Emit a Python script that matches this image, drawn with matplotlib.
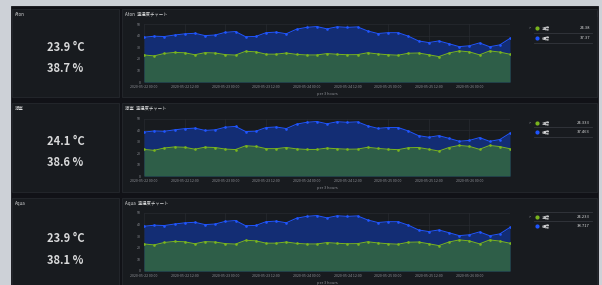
import numpy as np
import pandas as pd
import matplotlib
matplotlib.use("Agg")
import matplotlib.pyplot as plt
import matplotlib.dates as mdates
from matplotlib.patches import Rectangle

plt.rcParams['font.family'] = ['Noto Sans CJK JP', 'DejaVu Sans']

# data (3 hour steps)
times = pd.date_range("2020-05-22 00:00", periods=37, freq="3h")
tick_times = pd.date_range("2020-05-22 00:00", periods=9, freq="12h")

humidity = [38.5, 39.5, 39.2, 40.5, 41.5, 42.0, 40.0, 40.5, 42.8, 43.5,
            39.0, 39.3, 42.5, 43.0, 41.6, 45.5, 47.1, 47.8, 45.8, 47.6,
            47.1, 47.5, 44.0, 41.8, 42.5, 42.5, 39.5, 35.4, 34.0, 35.4,
            33.0, 30.5, 31.2, 33.7, 30.4, 32.0, 37.6]
temperature = [23.3, 22.5, 24.6, 25.5, 25.2, 23.5, 25.3, 25.0, 23.6, 23.2,
               26.5, 26.0, 24.0, 24.0, 25.0, 23.8, 23.3, 23.3, 24.5, 23.9,
               23.5, 23.6, 25.2, 24.2, 23.5, 23.1, 24.8, 25.0, 23.5, 21.9,
               25.0, 26.8, 26.0, 23.4, 26.8, 25.8, 23.9]

rooms = ["Aton", "寝室", "Aqua"]
stat_temp = ["23.9 °C", "24.1 °C", "23.9 °C"]
stat_hum = ["38.7 %", "38.6 %", "38.1 %"]
legend_names = [["温度", "湿度"], ["温度", "湿度"], ["温度", "湿度"]]
legend_vals = [["24.38", "37.37"], ["24.333", "37.463"], ["24.233", "38.717"]]

W, H = 602, 285
fig = plt.figure(figsize=(W / 100, H / 100), dpi=100)
fig.patch.set_facecolor('#cdd1d7')


def rect(x0, y0, x1, y1, fc, ec=None, lw=0.6):
    fig.patches.append(Rectangle((x0 / W, 1 - y1 / H), (x1 - x0) / W, (y1 - y0) / H,
                                 transform=fig.transFigure, facecolor=fc,
                                 edgecolor=ec if ec else fc, linewidth=lw,
                                 zorder=-5))


def hline(x0, x1, y, color='#34373d', lw=0.6):
    fig.add_artist(plt.Line2D([x0 / W, x1 / W], [1 - y / H, 1 - y / H],
                              transform=fig.transFigure, color=color, linewidth=lw))


def text(x, y, s, **kw):
    fig.text(x / W, 1 - y / H, s, **kw)


# dashboard background
rect(11, 6, 598, 290, '#111217')
# top right little button
rect(590, 11, 597, 16, '#6b6e75')

row_top = [9, 103, 198]
row_bot = [97, 192, 292]
plot_top = [24, 119, 213]
plot_bot = [82, 176, 271]
legend_y = [[28, 38], [123, 132], [217, 226]]
legend_lines = [[32.5, 43], [127, 137], [212, 221]]

blue_line = '#1f55ff'
blue_fill = '#132d74'
green_line = '#7ab51d'
green_fill = '#2e5e48'

for r in range(3):
    top, bot = row_top[r], row_bot[r]
    # stat panel
    rect(12, top, 119, bot, '#181b1f', '#25282e')
    text(15, top + 5, rooms[r], fontsize=3.2, color='#d8d9da', va='center')
    mid = (top + bot) / 2
    text(65.5, mid - 6, stat_temp[r], fontsize=8, color='#d8d9da',
         ha='center', va='center', weight='bold')
    text(65.5, mid + 15, stat_hum[r], fontsize=8, color='#d8d9da',
         ha='center', va='center', weight='bold')

    # chart panel
    rect(122, top, 597, bot, '#181b1f', '#25282e')
    text(125, top + 5, rooms[r] + "  温湿度チャート", fontsize=3.2,
         color='#d8d9da', va='center')

    ax = fig.add_axes([144 / W, 1 - plot_bot[r] / H, 366 / W,
                       (plot_bot[r] - plot_top[r]) / H])
    ax.set_zorder(2)
    ax.set_facecolor('#181b1f')
    ax.fill_between(times, 0, humidity, color=blue_fill, linewidth=0)
    ax.plot(times, humidity, color=blue_line, linewidth=0.7, marker='o',
            markersize=0.9)
    ax.fill_between(times, 0, temperature, color=green_fill, linewidth=0)
    ax.plot(times, temperature, color=green_line, linewidth=0.7, marker='o',
            markersize=0.9)
    ax.set_xlim(times[0], times[-1])
    ax.set_ylim(0, 50)
    ax.set_yticks([0, 10, 20, 30, 40, 50])
    ax.set_xticks(tick_times)
    ax.xaxis.set_major_formatter(mdates.DateFormatter('%Y-%m-%d %H:%M'))
    ax.tick_params(labelsize=2.6, colors='#8e9096', length=0, pad=2.5)
    ax.grid(True, color='#2a2d33', linewidth=0.4)
    ax.set_axisbelow(True)
    for sp in ax.spines.values():
        sp.set_visible(False)
    ax.set_xlabel("per 3 hours", fontsize=2.8, color='#8e9096', labelpad=1.5)

    # legend on the right
    text(530, legend_y[r][0], ">", fontsize=2.8, color='#8e9096',
         va='center', ha='center')
    for k in range(2):
        y = legend_y[r][k]
        col = green_line if k == 0 else blue_line
        fig.add_artist(plt.Line2D([537 / W], [1 - y / H], marker='o',
                                  markersize=2.0, color=col,
                                  transform=fig.transFigure))
        text(542, y, legend_names[r][k], fontsize=3, color='#d8d9da', va='center')
        text(590, y, legend_vals[r][k], fontsize=3, color='#d8d9da',
             va='center', ha='right')
        hline(534, 592, legend_lines[r][k])

fig.savefig("out.png", dpi=100, facecolor=fig.get_facecolor())
